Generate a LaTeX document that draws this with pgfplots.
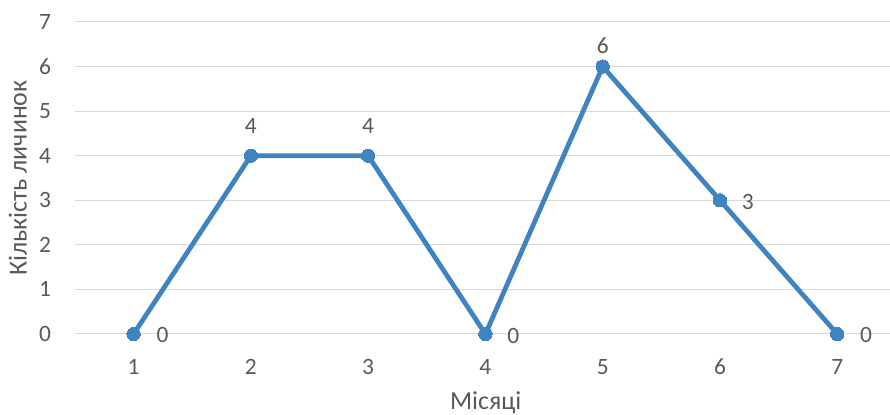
\documentclass[border=0pt]{standalone}
\usepackage{pgfplots}
\pgfplotsset{compat=1.18}
\usepackage{pgfplotstable}
\usepackage{fontspec}
\setmainfont{Carlito}

\definecolor{seriesblue}{RGB}{64,131,193}
\definecolor{textgray}{RGB}{89,89,89}
\definecolor{gridgray}{RGB}{217,217,217}

% month, count, label offset (dx, dy)
\pgfplotstableread{
x y dx dy
1 0 29 -1
2 4 0 30
3 4 0 30
4 0 28 -2
5 6 0 21
6 3 28 -2
7 0 29 -1
}\datatable

\begin{document}
\begin{tikzpicture}
\begin{axis}[
  scale only axis,
  width=815bp, height=312bp,
  xmin=0.5, xmax=7.45,
  ymin=0, ymax=7,
  xtick={1,...,7},
  ytick={0,...,7},
  ymajorgrids,
  grid style={color=gridgray, line width=1pt},
  axis line style={draw=none},
  major tick length=0pt,
  clip=false,
  /pgf/number format/assume math mode=true,
  ticklabel style={font=\fontsize{23.5}{26}\selectfont, text=textgray},
  xticklabel style={anchor=center, yshift=-33bp},
  yticklabel style={anchor=center, xshift=-30bp},
  xlabel={Місяці},
  ylabel={Кількість личинок},
  label style={font=\fontsize{26}{29}\selectfont, text=textgray},
  xlabel style={at={(axis description cs:0.504,-0.221)}, anchor=center},
  ylabel style={at={(axis description cs:-0.070,0.5)}, anchor=center},
]
\addplot[
  color=seriesblue, line width=4.8pt, line join=round,
  mark=*, mark size=6.7pt,
  mark options={fill=seriesblue, draw=seriesblue, line width=0pt},
  nodes near coords,
  visualization depends on={\thisrow{dx} \as \lbldx},
  visualization depends on={\thisrow{dy} \as \lbldy},
  every node near coord/.append style={
    anchor=center, inner sep=0pt, text=textgray,
    font=\fontsize{23.5}{26}\selectfont,
    xshift=\lbldx, yshift=\lbldy},
  point meta=explicit symbolic,
] table[x=x, y=y, meta=y] {\datatable};
\coordinate (bbl) at (axis description cs:-0.092,-0.2596);
\coordinate (btr) at (axis description cs:1.0,1.0705);
\end{axis}
\pgfresetboundingbox
\useasboundingbox (bbl) rectangle (btr);
\end{tikzpicture}
\end{document}
